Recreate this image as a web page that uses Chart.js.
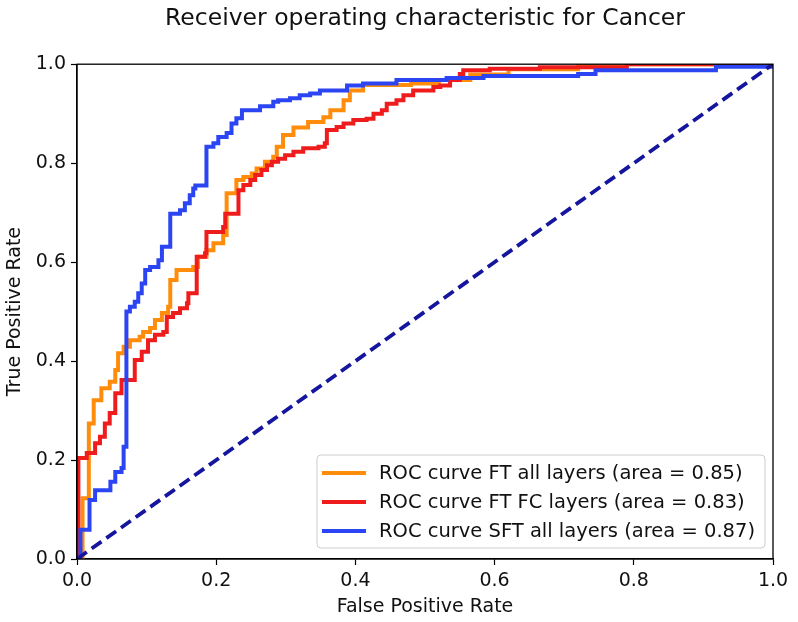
<!DOCTYPE html>
<html>
<head>
<meta charset="utf-8">
<script src="https://cdn.jsdelivr.net/npm/chart.js@4.4.1/dist/chart.umd.min.js"></script>
<style>
  html, body { margin: 0; padding: 0; background: #fff; }
  #wrap { width: 798px; height: 622px; }
</style>
</head>
<body>
<div id="wrap"><canvas id="c" width="798" height="622"></canvas></div>
<script>
// ---- Data ----
const chartTitle = "Receiver operating characteristic for Cancer";
const xTitle = "False Positive Rate";
const yTitle = "True Positive Rate";
const seriesLabels = [
  "ROC curve FT all layers (area = 0.85)",
  "ROC curve FT FC layers (area = 0.83)",
  "ROC curve SFT all layers (area = 0.87)"
];

const ftAllFpr = [0, 0.008, 0.017, 0.024, 0.035, 0.047, 0.055, 0.059, 0.067, 0.076, 0.090, 0.095, 0.105, 0.112, 0.122, 0.131, 0.134, 0.143, 0.167, 0.174, 0.186, 0.196, 0.210, 0.215, 0.229, 0.239, 0.251, 0.258, 0.270, 0.282, 0.287, 0.296, 0.311, 0.332, 0.354, 0.364, 0.383, 0.392, 0.411, 0.480, 0.520, 0.565, 0.620, 0.720, 0.760, 1.0];
const ftAllTpr = [0, 0.123, 0.274, 0.321, 0.345, 0.358, 0.382, 0.416, 0.429, 0.442, 0.449, 0.459, 0.467, 0.483, 0.497, 0.510, 0.564, 0.584, 0.590, 0.611, 0.624, 0.638, 0.655, 0.739, 0.766, 0.772, 0.779, 0.789, 0.803, 0.813, 0.833, 0.857, 0.872, 0.883, 0.893, 0.907, 0.927, 0.947, 0.958, 0.961, 0.968, 0.979, 0.990, 0.998, 1.0, 1.0];

const ftFcFpr = [0, 0.002, 0.014, 0.026, 0.033, 0.040, 0.047, 0.055, 0.064, 0.083, 0.093, 0.102, 0.112, 0.124, 0.129, 0.138, 0.148, 0.158, 0.160, 0.172, 0.184, 0.186, 0.210, 0.213, 0.232, 0.239, 0.249, 0.256, 0.265, 0.273, 0.280, 0.289, 0.299, 0.311, 0.325, 0.347, 0.356, 0.359, 0.373, 0.383, 0.397, 0.416, 0.426, 0.438, 0.445, 0.459, 0.469, 0.483, 0.512, 0.522, 0.536, 0.550, 0.555, 0.593, 0.665, 0.790, 1.0];
const ftFcTpr = [0, 0.204, 0.214, 0.234, 0.247, 0.274, 0.295, 0.335, 0.362, 0.402, 0.419, 0.442, 0.453, 0.459, 0.489, 0.497, 0.507, 0.517, 0.537, 0.611, 0.618, 0.661, 0.671, 0.698, 0.745, 0.756, 0.766, 0.776, 0.786, 0.796, 0.803, 0.809, 0.816, 0.823, 0.830, 0.833, 0.840, 0.867, 0.873, 0.880, 0.887, 0.890, 0.900, 0.907, 0.920, 0.927, 0.937, 0.947, 0.954, 0.957, 0.968, 0.980, 0.988, 0.991, 0.994, 1.0, 1.0];

const sftFpr = [0, 0.005, 0.018, 0.026, 0.048, 0.055, 0.064, 0.067, 0.071, 0.076, 0.083, 0.088, 0.093, 0.098, 0.105, 0.117, 0.122, 0.134, 0.148, 0.155, 0.162, 0.167, 0.170, 0.186, 0.196, 0.203, 0.215, 0.222, 0.229, 0.237, 0.263, 0.282, 0.289, 0.306, 0.320, 0.335, 0.349, 0.388, 0.411, 0.459, 0.531, 0.584, 0.720, 0.745, 0.918, 1.0];
const sftTpr = [0, 0.059, 0.119, 0.139, 0.156, 0.176, 0.184, 0.227, 0.500, 0.510, 0.520, 0.537, 0.557, 0.584, 0.590, 0.604, 0.631, 0.698, 0.705, 0.719, 0.735, 0.749, 0.755, 0.833, 0.840, 0.853, 0.861, 0.880, 0.891, 0.907, 0.915, 0.924, 0.927, 0.931, 0.937, 0.941, 0.947, 0.957, 0.961, 0.968, 0.972, 0.976, 0.980, 0.988, 0.995, 1.0];

const chanceFpr = [0, 1];
const chanceTpr = [0, 1];

const axisTicks = [0, 0.2, 0.4, 0.6, 0.8, 1.0];

// ---- Build ----
const toPts = (xs, ys) => xs.map((x, i) => ({ x: x, y: ys[i] }));
const FONT = '"DejaVu Sans", "Liberation Sans", sans-serif';
const TEXT = '#111111';

const frame = {
  id: 'frame',
  afterDraw(chart) {
    const { ctx, chartArea: a } = chart;
    ctx.save();
    ctx.strokeStyle = '#000';
    ctx.lineWidth = 1.3;
    ctx.strokeRect(a.left, a.top, a.right - a.left, a.bottom - a.top);
    ctx.restore();
  }
};

const innerLegend = {
  id: 'innerLegend',
  afterDraw(chart) {
    const { ctx, chartArea: a } = chart;
    const items = chart.data.datasets.filter(d => d.inLegend).sort((p, q) => p.legendRank - q.legendRank);
    ctx.save();
    ctx.font = '19.5px ' + FONT;
    const textW = Math.max(...items.map(d => ctx.measureText(d.label).width));
    const padL = 5, handle = 44, gap = 13, padR = 10, rowH = 29, padT = 17, padB = 18;
    const w = padL + handle + gap + textW + padR;
    const h = padT + rowH * (items.length - 1) + padB;
    const right = a.right - 8, bottom = a.bottom - 11;
    const left = right - w, top = bottom - h;
    const r = 4;
    ctx.beginPath();
    ctx.moveTo(left + r, top);
    ctx.lineTo(right - r, top);
    ctx.arcTo(right, top, right, top + r, r);
    ctx.lineTo(right, bottom - r);
    ctx.arcTo(right, bottom, right - r, bottom, r);
    ctx.lineTo(left + r, bottom);
    ctx.arcTo(left, bottom, left, bottom - r, r);
    ctx.lineTo(left, top + r);
    ctx.arcTo(left, top, left + r, top, r);
    ctx.closePath();
    ctx.fillStyle = 'rgba(255,255,255,0.8)';
    ctx.fill();
    ctx.strokeStyle = '#cccccc';
    ctx.lineWidth = 1;
    ctx.stroke();
    items.forEach((d, i) => {
      const cy = top + padT + i * rowH + 1;
      ctx.strokeStyle = d.borderColor;
      ctx.lineWidth = d.borderWidth;
      ctx.setLineDash([]);
      ctx.beginPath();
      ctx.moveTo(left + padL, cy);
      ctx.lineTo(left + padL + handle, cy);
      ctx.stroke();
      ctx.fillStyle = TEXT;
      ctx.textBaseline = 'middle';
      ctx.textAlign = 'left';
      ctx.fillText(d.label, left + padL + handle + gap, cy + 1);
    });
    ctx.restore();
  }
};

const tickOpts = {
  color: TEXT,
  font: { family: FONT, size: 19 },
  padding: 5,
  autoSkip: false,
  maxRotation: 0,
  callback: v => Number(v).toFixed(1)
};
const gridOpts = {
  display: true,
  drawOnChartArea: false,
  drawTicks: true,
  tickLength: 6,
  color: '#000',
  tickColor: '#000',
  tickWidth: 1.2
};

new Chart(document.getElementById('c'), {
  type: 'line',
  data: {
    datasets: [
      { label: 'chance', data: toPts(chanceFpr, chanceTpr), borderColor: '#15159e', borderWidth: 3.8, borderDash: [12, 6], pointRadius: 0, fill: false, order: 0, inLegend: false },
      { label: seriesLabels[2], data: toPts(sftFpr, sftTpr), borderColor: '#2b45f2', borderWidth: 4, stepped: 'before', pointRadius: 0, fill: false, order: 1, inLegend: true, legendRank: 2 },
      { label: seriesLabels[1], data: toPts(ftFcFpr, ftFcTpr), borderColor: '#ee1c1c', borderWidth: 4, stepped: 'before', pointRadius: 0, fill: false, order: 2, inLegend: true, legendRank: 1 },
      { label: seriesLabels[0], data: toPts(ftAllFpr, ftAllTpr), borderColor: '#ff8c0a', borderWidth: 4, stepped: 'before', pointRadius: 0, fill: false, order: 3, inLegend: true, legendRank: 0 }
    ]
  },
  options: {
    responsive: false,
    animation: false,
    devicePixelRatio: 1,
    layout: { padding: { left: 0, right: 25, top: 0, bottom: 0 } },
    plugins: {
      legend: { display: false },
      tooltip: { enabled: false },
      title: {
        display: true,
        fullSize: false,
        text: chartTitle,
        color: TEXT,
        font: { family: FONT, size: 23.5, weight: 'normal' },
        padding: { top: 5, bottom: 31 }
      }
    },
    scales: {
      x: {
        type: 'linear',
        min: 0, max: 1,
        afterBuildTicks: s => { s.ticks = axisTicks.map(v => ({ value: v })); },
        afterFit: s => { s.height = 63; },
        ticks: tickOpts,
        grid: gridOpts,
        border: { display: true, color: '#000', width: 1.3 },
        title: { display: true, text: xTitle, color: TEXT, font: { family: FONT, size: 19 }, padding: { top: 2, bottom: 4 } }
      },
      y: {
        type: 'linear',
        min: 0, max: 1,
        afterBuildTicks: s => { s.ticks = axisTicks.map(v => ({ value: v })); },
        afterFit: s => { s.width = 77; },
        ticks: tickOpts,
        grid: gridOpts,
        border: { display: true, color: '#000', width: 1.3 },
        title: { display: true, text: yTitle, color: TEXT, font: { family: FONT, size: 19 }, padding: { top: 4, bottom: 2 } }
      }
    }
  },
  plugins: [innerLegend, frame]
});
</script>
</body>
</html>
